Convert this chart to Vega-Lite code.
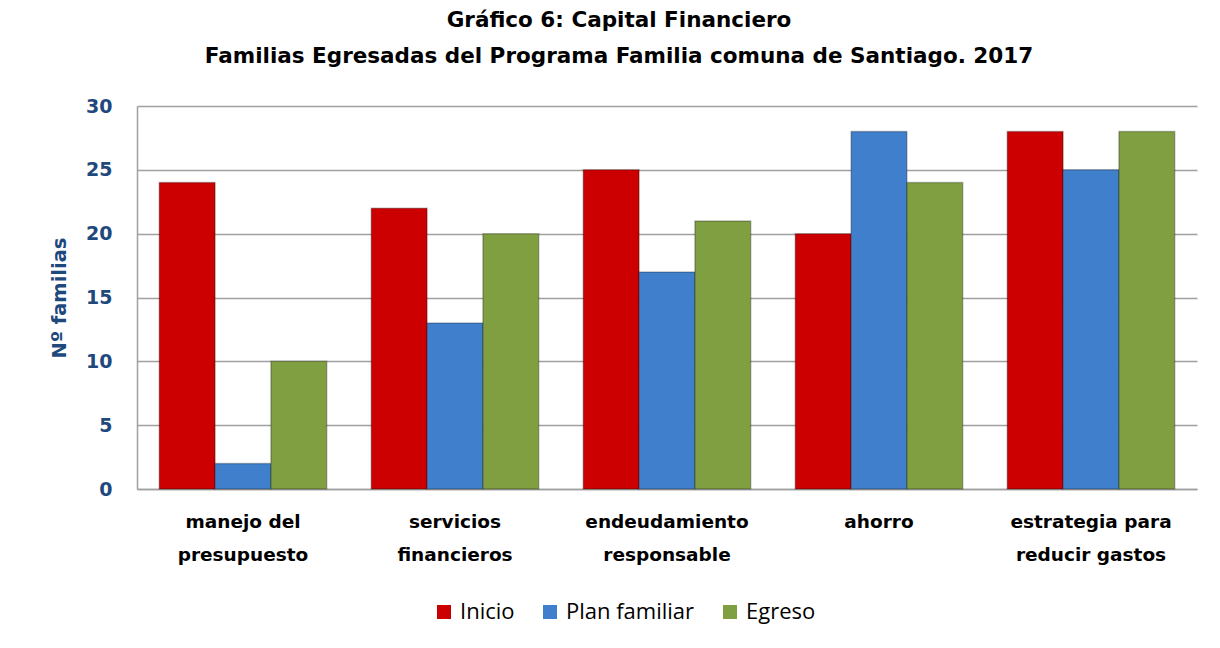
{
  "$schema": "https://vega.github.io/schema/vega-lite/v6.json",
  "autosize": {"type": "none"},
  "width": 1060,
  "height": 383,
  "padding": {"left": 137, "top": 106, "right": 23, "bottom": 159},
  "background": "white",
  "title": {
    "text": ["Gráfico 6: Capital Financiero", "Familias Egresadas del Programa Familia comuna de Santiago. 2017"],
    "anchor": "middle",
    "frame": "group",
    "dx": -48,
    "offset": 30,
    "font": "DejaVu Sans",
    "fontSize": 21.5,
    "fontWeight": "bold",
    "color": "#000000",
    "lineHeight": 36
  },
  "data": {
    "values": [
      {"categoria": "manejo del|presupuesto", "serie": "Inicio", "valor": 24},
      {"categoria": "manejo del|presupuesto", "serie": "Plan familiar", "valor": 2},
      {"categoria": "manejo del|presupuesto", "serie": "Egreso", "valor": 10},
      {"categoria": "servicios|financieros", "serie": "Inicio", "valor": 22},
      {"categoria": "servicios|financieros", "serie": "Plan familiar", "valor": 13},
      {"categoria": "servicios|financieros", "serie": "Egreso", "valor": 20},
      {"categoria": "endeudamiento|responsable", "serie": "Inicio", "valor": 25},
      {"categoria": "endeudamiento|responsable", "serie": "Plan familiar", "valor": 17},
      {"categoria": "endeudamiento|responsable", "serie": "Egreso", "valor": 21},
      {"categoria": "ahorro", "serie": "Inicio", "valor": 20},
      {"categoria": "ahorro", "serie": "Plan familiar", "valor": 28},
      {"categoria": "ahorro", "serie": "Egreso", "valor": 24},
      {"categoria": "estrategia para|reducir gastos", "serie": "Inicio", "valor": 28},
      {"categoria": "estrategia para|reducir gastos", "serie": "Plan familiar", "valor": 25},
      {"categoria": "estrategia para|reducir gastos", "serie": "Egreso", "valor": 28}
    ]
  },
  "mark": {"type": "bar", "stroke": "#00000040", "strokeWidth": 1.5},
  "encoding": {
    "x": {
      "field": "categoria",
      "type": "nominal",
      "sort": null,
      "scale": {"paddingInner": 0.21, "paddingOuter": 0.105},
      "axis": {
        "title": null,
        "labelAngle": 0,
        "labelExpr": "split(datum.label, '|')",
        "labelFont": "DejaVu Sans",
        "labelFontSize": 18.5,
        "labelFontWeight": "bold",
        "labelColor": "#000000",
        "labelLineHeight": 33,
        "labelPadding": 23,
        "ticks": false,
        "domainColor": "#A0A0A0",
        "domainWidth": 1.5,
        "labelBaseline": "top"
      }
    },
    "xOffset": {
      "field": "serie",
      "type": "nominal",
      "sort": ["Inicio", "Plan familiar", "Egreso"],
      "scale": {"paddingInner": 0, "paddingOuter": 0}
    },
    "y": {
      "field": "valor",
      "type": "quantitative",
      "scale": {"domain": [0, 30]},
      "axis": {
        "title": "Nº  familias",
        "values": [0, 5, 10, 15, 20, 25, 30],
        "titleFont": "DejaVu Sans",
        "titleFontSize": 19.5,
        "titleFontWeight": "bold",
        "titleColor": "#1F497D",
        "titlePadding": 16,
        "labelFont": "DejaVu Sans",
        "labelFontSize": 19,
        "labelFontWeight": "bold",
        "labelColor": "#1F497D",
        "labelPadding": 25,
        "ticks": false,
        "domainColor": "#A0A0A0",
        "domainWidth": 1.5,
        "gridColor": "#A0A0A0",
        "gridWidth": 1.5
      }
    },
    "color": {
      "field": "serie",
      "type": "nominal",
      "sort": ["Inicio", "Plan familiar", "Egreso"],
      "scale": {"domain": ["Inicio", "Plan familiar", "Egreso"], "range": ["#CC0000", "#3F7FCC", "#7F9F40"]},
      "legend": {
        "title": null,
        "orient": "none",
        "direction": "horizontal",
        "legendX": 296,
        "legendY": 495,
        "symbolType": "square",
        "symbolSize": 196,
        "symbolStrokeWidth": 0,
        "symbolOpacity": 1,
        "labelFont": "Open Sans",
        "labelFontSize": 22,
        "labelColor": "#000000",
        "labelOffset": 5,
        "columnPadding": 24
      }
    }
  },
  "config": {
    "view": {"stroke": null}
  }
}
